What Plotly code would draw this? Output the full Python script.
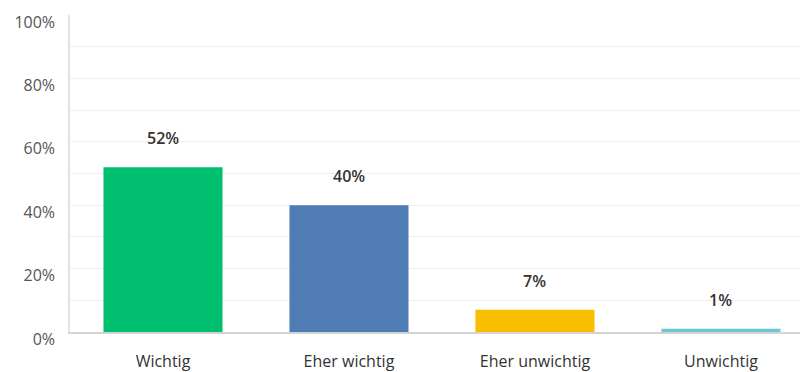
import plotly.graph_objects as go

# Survey answers and their shares (%)
categories = ["Wichtig", "Eher wichtig", "Eher unwichtig", "Unwichtig"]
shares = [52, 40, 7, 1]
bar_colors = ["#00BF6F", "#507CB6", "#F9BE00", "#6BC8CD"]
y_ticks = [0, 20, 40, 60, 80, 100]
y_tick_labels = [f"{v}%" for v in y_ticks]

FONT = "'Open Sans', sans-serif"

fig = go.Figure(
    go.Bar(
        x=categories,
        y=shares,
        marker=dict(color=bar_colors, line=dict(width=0)),
        width=0.64,
        hoverinfo="skip",
    )
)

# Value labels above each bar
for cat, val in zip(categories, shares):
    fig.add_annotation(
        x=cat, y=val, text=f"{val}%", showarrow=False,
        yshift=29, font=dict(family=FONT, size=16, color="#333333", weight=600),
    )

fig.update_layout(
    width=800, height=372,
    margin=dict(l=70, r=0, t=15, b=40),
    paper_bgcolor="white", plot_bgcolor="white",
    showlegend=False,
    font=dict(family=FONT),
)

fig.update_xaxes(
    range=[-0.5, 3.425],
    showgrid=False,
    showline=True, linecolor="#d4d4d4", linewidth=1.5,
    ticks="", ticklabelstandoff=14,
    tickfont=dict(family=FONT, size=16, color="#333333"),
)

fig.update_yaxes(
    range=[0, 100],
    tickvals=y_ticks, ticktext=y_tick_labels,
    showgrid=True, gridcolor="#efefef", gridwidth=1,
    minor=dict(dtick=10, showgrid=True, gridcolor="#efefef", gridwidth=1),
    showline=True, linecolor="#e2e2e2", linewidth=1.5,
    zeroline=False,
    ticks="", ticklabelshift=7, ticklabelstandoff=10,
    tickfont=dict(family=FONT, size=16, color="#555555"),
)

fig.write_html("out.html")
